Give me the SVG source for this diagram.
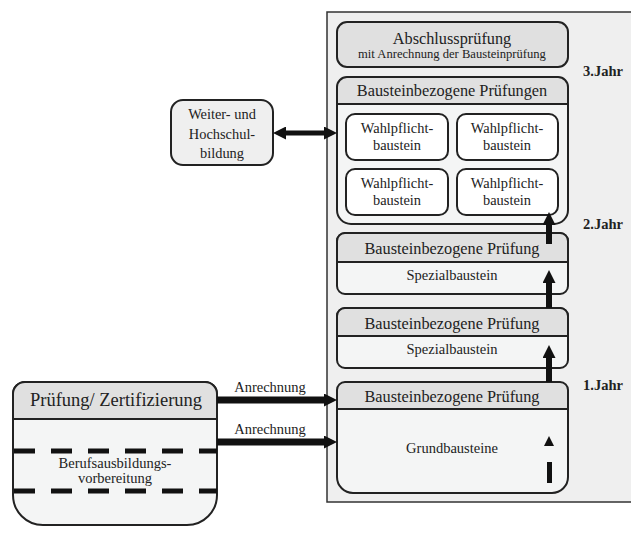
<svg xmlns="http://www.w3.org/2000/svg" width="631" height="533" viewBox="0 0 631 533" font-family="'Liberation Serif', 'DejaVu Serif', serif">
  <style>
    text { font-family: 'Liberation Serif', 'DejaVu Serif', serif; fill: #222; text-anchor: middle; }
    .box { stroke: #222; stroke-width: 2; }
    .hdr { fill: #e0e0e0; stroke: #222; stroke-width: 2; }
    .body { fill: #f4f5f5; stroke: #222; stroke-width: 2; }
    .white { fill: #ffffff; stroke: #222; stroke-width: 2; }
    .big { font-size: 16.3px; }
    .mid { font-size: 14.4px; }
    .small { font-size: 14.5px; }
    .yr { font-size: 14.5px; font-weight: bold; }
    .dash { stroke: #111; stroke-width: 5; stroke-dasharray: 21 16; fill: none; }
  </style>
  <defs>
    <!-- arrowhead whose base sits at the line end; the tip reaches 13px further -->
    <marker id="head" viewBox="0 0 10 10" refX="0" refY="5" markerWidth="13" markerHeight="13" orient="auto-start-reverse" markerUnits="userSpaceOnUse">
      <path d="M0,0 L10,5 L0,10 Z" fill="#111"/>
    </marker>
  </defs>

  <rect width="631" height="533" fill="#ffffff"/>

  <!-- outer panel -->
  <g id="panel">
    <rect x="327" y="12" width="320" height="490" fill="#efefef" stroke="#333" stroke-width="1.5"/>
    <text class="yr" x="603" y="76">3.Jahr</text>
    <text class="yr" x="603" y="229">2.Jahr</text>
    <text class="yr" x="603" y="390">1.Jahr</text>
  </g>

  <g id="abschluss">
    <rect class="hdr" x="337" y="22" width="231" height="45" rx="10"/>
    <text class="big" x="452" y="44">Abschlussprüfung</text>
    <text x="452" y="58" style="font-size:12.6px">mit Anrechnung der Bausteinprüfung</text>
  </g>

  <g id="wahl-gruppe">
    <rect class="body" x="337" y="77" width="231" height="147" rx="14"/>
    <path class="hdr" d="M347,77 H558 A10,10 0 0 1 568,87 V104 H337 V87 A10,10 0 0 1 347,77 Z"/>
    <text class="big" x="452" y="96">Bausteinbezogene Prüfungen</text>
  </g>
  <g id="wahl1">
    <rect class="white" x="346" y="114" width="102" height="46" rx="9"/>
    <text class="mid" x="397" y="133">Wahlpflicht-</text>
    <text class="mid" x="397" y="150">baustein</text>
  </g>
  <g id="wahl2">
    <rect class="white" x="457" y="114" width="101" height="46" rx="9"/>
    <text class="mid" x="507" y="133">Wahlpflicht-</text>
    <text class="mid" x="507" y="150">baustein</text>
  </g>
  <g id="wahl3">
    <rect class="white" x="346" y="169" width="102" height="46" rx="9"/>
    <text class="mid" x="397" y="188">Wahlpflicht-</text>
    <text class="mid" x="397" y="205">baustein</text>
  </g>
  <g id="wahl4">
    <rect class="white" x="457" y="169" width="101" height="46" rx="9"/>
    <text class="mid" x="507" y="188">Wahlpflicht-</text>
    <text class="mid" x="507" y="205">baustein</text>
  </g>

  <g id="spezial2">
    <rect class="body" x="337" y="233" width="231" height="61" rx="8"/>
    <path class="hdr" d="M345,233 H560 A8,8 0 0 1 568,241 V262 H337 V241 A8,8 0 0 1 345,233 Z"/>
    <text class="big" x="452" y="254">Bausteinbezogene Prüfung</text>
    <text class="small" x="452" y="280">Spezialbaustein</text>
  </g>

  <g id="spezial1">
    <rect class="body" x="337" y="308" width="231" height="60" rx="8"/>
    <path class="hdr" d="M345,308 H560 A8,8 0 0 1 568,316 V336 H337 V316 A8,8 0 0 1 345,308 Z"/>
    <text class="big" x="452" y="329">Bausteinbezogene Prüfung</text>
    <text class="small" x="452" y="354">Spezialbaustein</text>
  </g>

  <g id="grund">
    <rect class="body" x="337" y="382" width="231" height="111" rx="16"/>
    <path class="hdr" d="M345,382 H560 A8,8 0 0 1 568,390 V409 H337 V390 A8,8 0 0 1 345,382 Z"/>
    <text class="big" x="452" y="402">Bausteinbezogene Prüfung</text>
    <text class="small" x="452" y="453">Grundbausteine</text>
    <path d="M544,446 L549,436 L554,446 Z" fill="#111"/>
    <rect x="547" y="462" width="5" height="21" fill="#111"/>
  </g>

  <g id="weiterbildung">
    <rect class="box" x="171" y="100" width="102" height="65" rx="12" fill="#efefef"/>
    <text class="mid" x="222" y="119">Weiter- und</text>
    <text class="mid" x="222" y="139">Hochschul-</text>
    <text class="mid" x="222" y="158">bildung</text>
  </g>

  <g id="pruefung">
    <path d="M13,394 A12,12 0 0 1 25,382 H205 A12,12 0 0 1 217,394 V495 A30,30 0 0 1 187,525 H43 A30,30 0 0 1 13,495 Z" fill="#f4f5f5" stroke="#222" stroke-width="2"/>
    <path class="hdr" d="M25,382 H205 A12,12 0 0 1 217,394 V419 H13 V394 A12,12 0 0 1 25,382 Z"/>
    <text x="116" y="406" style="font-size:18.5px">Prüfung/ Zertifizierung</text>
    <line class="dash" x1="14" y1="451" x2="217" y2="451"/>
    <line class="dash" x1="14" y1="491" x2="217" y2="491"/>
    <text class="small" x="115" y="468">Berufsausbildungs-</text>
    <text class="small" x="115" y="483">vorbereitung</text>
  </g>

  <!-- connectors -->
  <g id="connectors" fill="none" stroke="#111">
    <line x1="217" y1="400" x2="324" y2="400" stroke-width="7" marker-end="url(#head)"/>
    <line x1="217" y1="442" x2="324" y2="442" stroke-width="7" marker-end="url(#head)"/>
    <line x1="286" y1="133" x2="324" y2="133" stroke-width="5" marker-start="url(#head)" marker-end="url(#head)"/>
    <line x1="549" y1="382" x2="549" y2="358" stroke-width="6" marker-end="url(#head)"/>
    <line x1="549" y1="308" x2="549" y2="283" stroke-width="6" marker-end="url(#head)"/>
    <line x1="549" y1="244" x2="549" y2="225" stroke-width="6" marker-end="url(#head)"/>
  </g>
  <g id="labels">
    <text class="small" x="270" y="392">Anrechnung</text>
    <text class="small" x="270" y="434">Anrechnung</text>
  </g>
</svg>
